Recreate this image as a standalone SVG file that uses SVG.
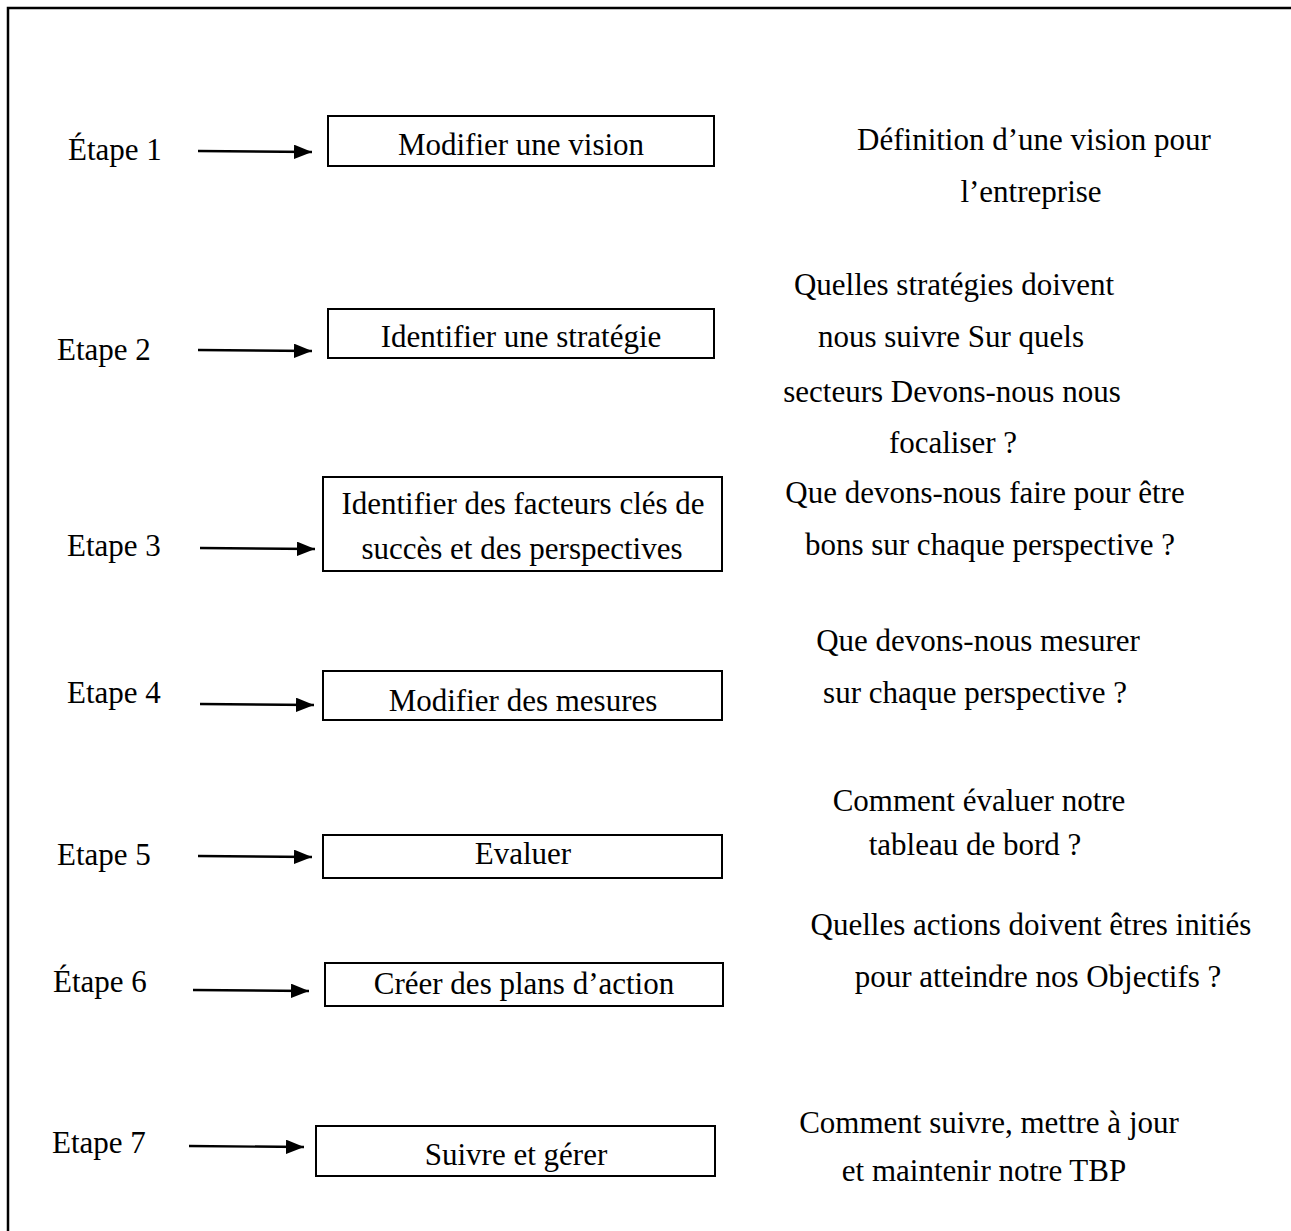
<svg xmlns="http://www.w3.org/2000/svg" width="1291" height="1231" viewBox="0 0 1291 1231">
<style>
text{font-family:"Liberation Serif","Times New Roman",serif;font-size:31px;fill:#000}
.c{text-anchor:middle}
.box{fill:#fff;stroke:#000;stroke-width:2}
.conn{stroke:#000;stroke-width:2.4;fill:none}
</style>
<defs>
<marker id="ah" viewBox="0 0 10 10" refX="10" refY="5" markerWidth="7.5" markerHeight="6" markerUnits="strokeWidth" orient="auto" preserveAspectRatio="none">
<path d="M0,0 L10,5 L0,10 z" fill="#000"/>
</marker>
</defs>
<rect width="1291" height="1231" fill="#fff"/>
<path d="M8,1231 L8,8 L1291,8" fill="none" stroke="#000" stroke-width="2.5"/>

<g id="labels">
<text x="68" y="160">Étape 1</text>
<text x="57" y="360">Etape 2</text>
<text x="67" y="556">Etape 3</text>
<text x="67" y="703">Etape 4</text>
<text x="57" y="865">Etape 5</text>
<text x="53" y="992">Étape 6</text>
<text x="52" y="1153">Etape 7</text>
</g>

<g id="connectors">
<line class="conn" x1="198" y1="151" x2="312" y2="152" marker-end="url(#ah)"/>
<line class="conn" x1="198" y1="350" x2="312" y2="351" marker-end="url(#ah)"/>
<line class="conn" x1="200" y1="548" x2="315" y2="549" marker-end="url(#ah)"/>
<line class="conn" x1="200" y1="704" x2="314" y2="705" marker-end="url(#ah)"/>
<line class="conn" x1="198" y1="856" x2="312" y2="857" marker-end="url(#ah)"/>
<line class="conn" x1="193" y1="990" x2="309" y2="991" marker-end="url(#ah)"/>
<line class="conn" x1="189" y1="1146" x2="304" y2="1147" marker-end="url(#ah)"/>
</g>

<g id="step1">
<rect class="box" x="328" y="116" width="386" height="50"/>
<text class="c" x="521" y="155">Modifier une vision</text>
</g>
<g id="step2">
<rect class="box" x="328" y="309" width="386" height="49"/>
<text class="c" x="521" y="347">Identifier une stratégie</text>
</g>
<g id="step3">
<rect class="box" x="323" y="477" width="399" height="94"/>
<text class="c" x="523" y="514">Identifier des facteurs clés de</text>
<text class="c" x="522" y="559">succès et des perspectives</text>
</g>
<g id="step4">
<rect class="box" x="323" y="671" width="399" height="49"/>
<text class="c" x="523" y="711">Modifier des mesures</text>
</g>
<g id="step5">
<rect class="box" x="323" y="835" width="399" height="43"/>
<text class="c" x="523" y="864">Evaluer</text>
</g>
<g id="step6">
<rect class="box" x="325" y="963" width="398" height="43"/>
<text class="c" x="524" y="994">Créer des plans d’action</text>
</g>
<g id="step7">
<rect class="box" x="316" y="1126" width="399" height="50"/>
<text class="c" x="516" y="1165">Suivre et gérer</text>
</g>

<g id="descriptions">
<text class="c" x="1034" y="150">Définition d’une vision pour</text>
<text class="c" x="1031" y="202">l’entreprise</text>
<text class="c" x="954" y="295">Quelles stratégies doivent</text>
<text class="c" x="951" y="347">nous suivre Sur quels</text>
<text class="c" x="952" y="402">secteurs Devons-nous nous</text>
<text class="c" x="953" y="453">focaliser ?</text>
<text class="c" x="985" y="503">Que devons-nous faire pour être</text>
<text class="c" x="990" y="555">bons sur chaque perspective ?</text>
<text class="c" x="978" y="651">Que devons-nous mesurer</text>
<text class="c" x="975" y="703">sur chaque perspective ?</text>
<text class="c" x="979" y="811">Comment évaluer notre</text>
<text class="c" x="975" y="855">tableau de bord ?</text>
<text class="c" x="1031" y="935">Quelles actions doivent êtres initiés</text>
<text class="c" x="1038" y="987">pour atteindre nos Objectifs ?</text>
<text class="c" x="989" y="1133">Comment suivre, mettre à jour</text>
<text class="c" x="984" y="1181">et maintenir notre TBP</text>
</g>
</svg>
